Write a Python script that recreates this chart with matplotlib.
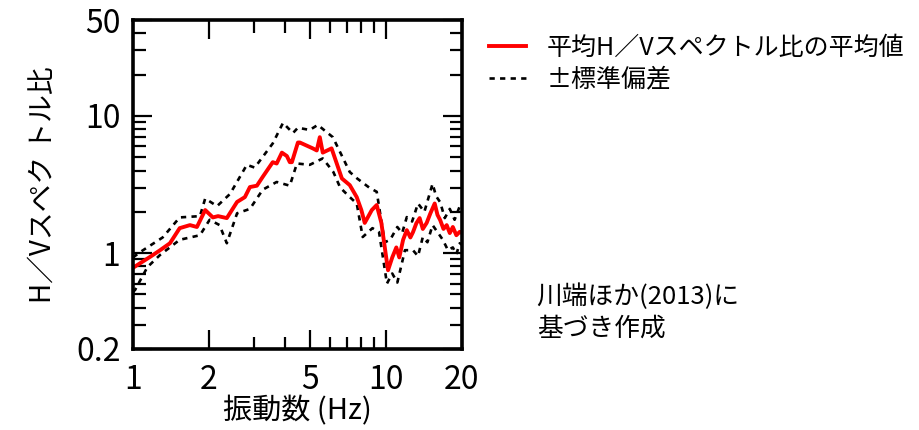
import matplotlib
matplotlib.use("Agg")
import matplotlib.pyplot as plt
from matplotlib.ticker import FixedLocator, NullFormatter
import numpy as np

plt.rcParams['font.family'] = ['Noto Sans CJK JP', 'DejaVu Sans']

# mean H/V spectral ratio
f_mean = [1.0, 1.02, 1.17, 1.28, 1.40, 1.53, 1.68, 1.79, 1.93, 2.07, 2.17, 2.35,
          2.58, 2.77, 2.9, 3.09, 3.26, 3.57, 3.7, 3.88, 4.06, 4.17, 4.25, 4.49,
          4.57, 5.14, 5.33, 5.48, 5.63, 6.1, 6.7, 7.2, 7.67, 8.0, 8.25, 8.8,
          9.2, 9.6, 10.1, 10.2, 10.6, 11.0, 11.3, 11.7, 12.1, 12.5, 12.8, 13.2,
          13.6, 14.0, 14.5, 15.0, 15.6, 16.0, 16.4, 16.9, 17.4, 17.9, 18.4,
          19.0, 19.6, 20.0]
hv_mean = [0.78, 0.80, 0.94, 1.05, 1.18, 1.52, 1.6, 1.55, 2.06, 1.82, 1.86, 1.80,
           2.36, 2.56, 3.03, 3.1, 3.6, 4.6, 4.5, 5.4, 5.1, 4.6, 4.6, 6.4,
           6.4, 5.8, 5.6, 7.0, 5.4, 5.8, 3.5, 3.13, 2.56, 2.06, 1.66, 2.06,
           2.24, 1.66, 0.85, 0.75, 0.93, 1.1, 0.93, 1.25, 1.47, 1.3, 1.42, 1.65,
           1.8, 1.5, 1.66, 1.95, 2.3, 1.9, 1.74, 1.5, 1.6, 1.4, 1.55,
           1.35, 1.43, 1.40]

# mean + 1 sigma
f_up = [1.0, 1.07, 1.31, 1.53, 1.84, 1.93, 2.15, 2.42, 2.82, 3.03, 3.57, 3.92,
        4.29, 4.49, 5.0, 5.38, 6.17, 7.2, 7.7, 8.6, 9.2, 9.9, 10.4, 11.1,
        11.6, 12.1, 12.7, 13.4, 14.2, 15.3, 15.8, 16.4, 17.1, 17.9, 18.7, 19.6, 20.0]
hv_up = [0.93, 1.02, 1.3, 1.82, 1.86, 2.5, 2.2, 2.7, 4.4, 4.2, 6.3, 8.9,
         7.5, 8.2, 7.9, 8.6, 7.0, 3.9, 3.5, 3.0, 2.8, 1.2, 1.25, 1.55,
         1.4, 1.83, 1.7, 2.3, 2.0, 3.2, 2.6, 2.35, 1.8, 2.1, 1.75, 2.2, 2.1]

# mean - 1 sigma
f_lo = [1.0, 1.02, 1.14, 1.28, 1.53, 1.84, 2.01, 2.2, 2.35, 2.58, 2.9, 3.26,
        3.7, 4.17, 4.45, 5.0, 5.63, 6.2, 6.6, 7.2, 7.67, 8.1, 8.85, 9.4,
        10.1, 10.6, 11.1, 11.9, 12.8, 13.4, 14.0, 14.6, 15.3, 16.1, 16.8,
        17.6, 18.4, 19.0, 19.6, 20.0]
hv_lo = [0.52, 0.54, 0.79, 0.97, 1.25, 1.35, 1.75, 1.6, 1.18, 1.95, 2.1, 2.9,
         3.3, 3.1, 4.5, 4.4, 4.9, 3.9, 3.0, 2.56, 2.3, 1.31, 1.52, 1.42,
         0.6, 0.71, 0.61, 1.05, 1.05, 0.95, 1.31, 1.2, 1.6, 1.4, 1.25,
         1.05, 1.1, 0.98, 1.18, 1.15]

x_ticks = [1, 2, 5, 10, 20]
x_minor = [3, 4, 6, 7, 8, 9]
y_ticks = [0.2, 1, 10, 50]
y_minor = [0.3, 0.4, 0.5, 0.6, 0.7, 0.8, 0.9, 2, 3, 4, 5, 6, 7, 8, 9, 20, 30, 40]

fig = plt.figure(figsize=(9.19, 4.30), dpi=100)
ax = fig.add_axes([0.1447, 0.1884, 0.358, 0.765])

ax.plot(f_up, hv_up, color='black', lw=1.9, ls=(0, (2.0, 2.0)), label='±標準偏差')
ax.plot(f_lo, hv_lo, color='black', lw=1.9, ls=(0, (2.0, 2.0)))
ax.plot(f_mean, hv_mean, color='red', lw=2.8, label='平均H／Vスペクトル比の平均値')

ax.set_xscale('log')
ax.set_yscale('log')
ax.set_xlim(1, 20)
ax.set_ylim(0.2, 50)

ax.xaxis.set_major_locator(FixedLocator(x_ticks))
ax.xaxis.set_minor_locator(FixedLocator(x_minor))
ax.set_xticklabels([str(t) for t in x_ticks])
ax.xaxis.set_minor_formatter(NullFormatter())
ax.yaxis.set_major_locator(FixedLocator(y_ticks))
ax.yaxis.set_minor_locator(FixedLocator(y_minor))
ax.set_yticklabels(['0.2', '1', '10', '50'])
ax.yaxis.set_minor_formatter(NullFormatter())

ax.tick_params(which='both', direction='in', top=True, right=True, labelsize=23, width=1.6)
ax.tick_params(which='major', length=14, pad=9)
ax.tick_params(axis='x', which='major', pad=11)
ax.tick_params(which='minor', length=9)
for sp in ax.spines.values():
    sp.set_linewidth(2.6)

ax.set_xlabel('振動数 (Hz)', fontsize=21, labelpad=0)
ax.set_ylabel('H／Vスペク トル比', fontsize=20, labelpad=13)

h, l = ax.get_legend_handles_labels()
fig.legend(h[::-1], l[::-1], loc='upper left', bbox_to_anchor=(0.532, 0.92),
           frameon=False, fontsize=18, handlelength=1.5, handletextpad=0.8,
           labelspacing=0.25, borderpad=0, borderaxespad=0)

fig.text(0.584, 0.273, '川端ほか(2013)に\n基づき作成', fontsize=18.5,
         ha='left', va='center', linespacing=1.3)

fig.savefig('out.png', dpi=100)
